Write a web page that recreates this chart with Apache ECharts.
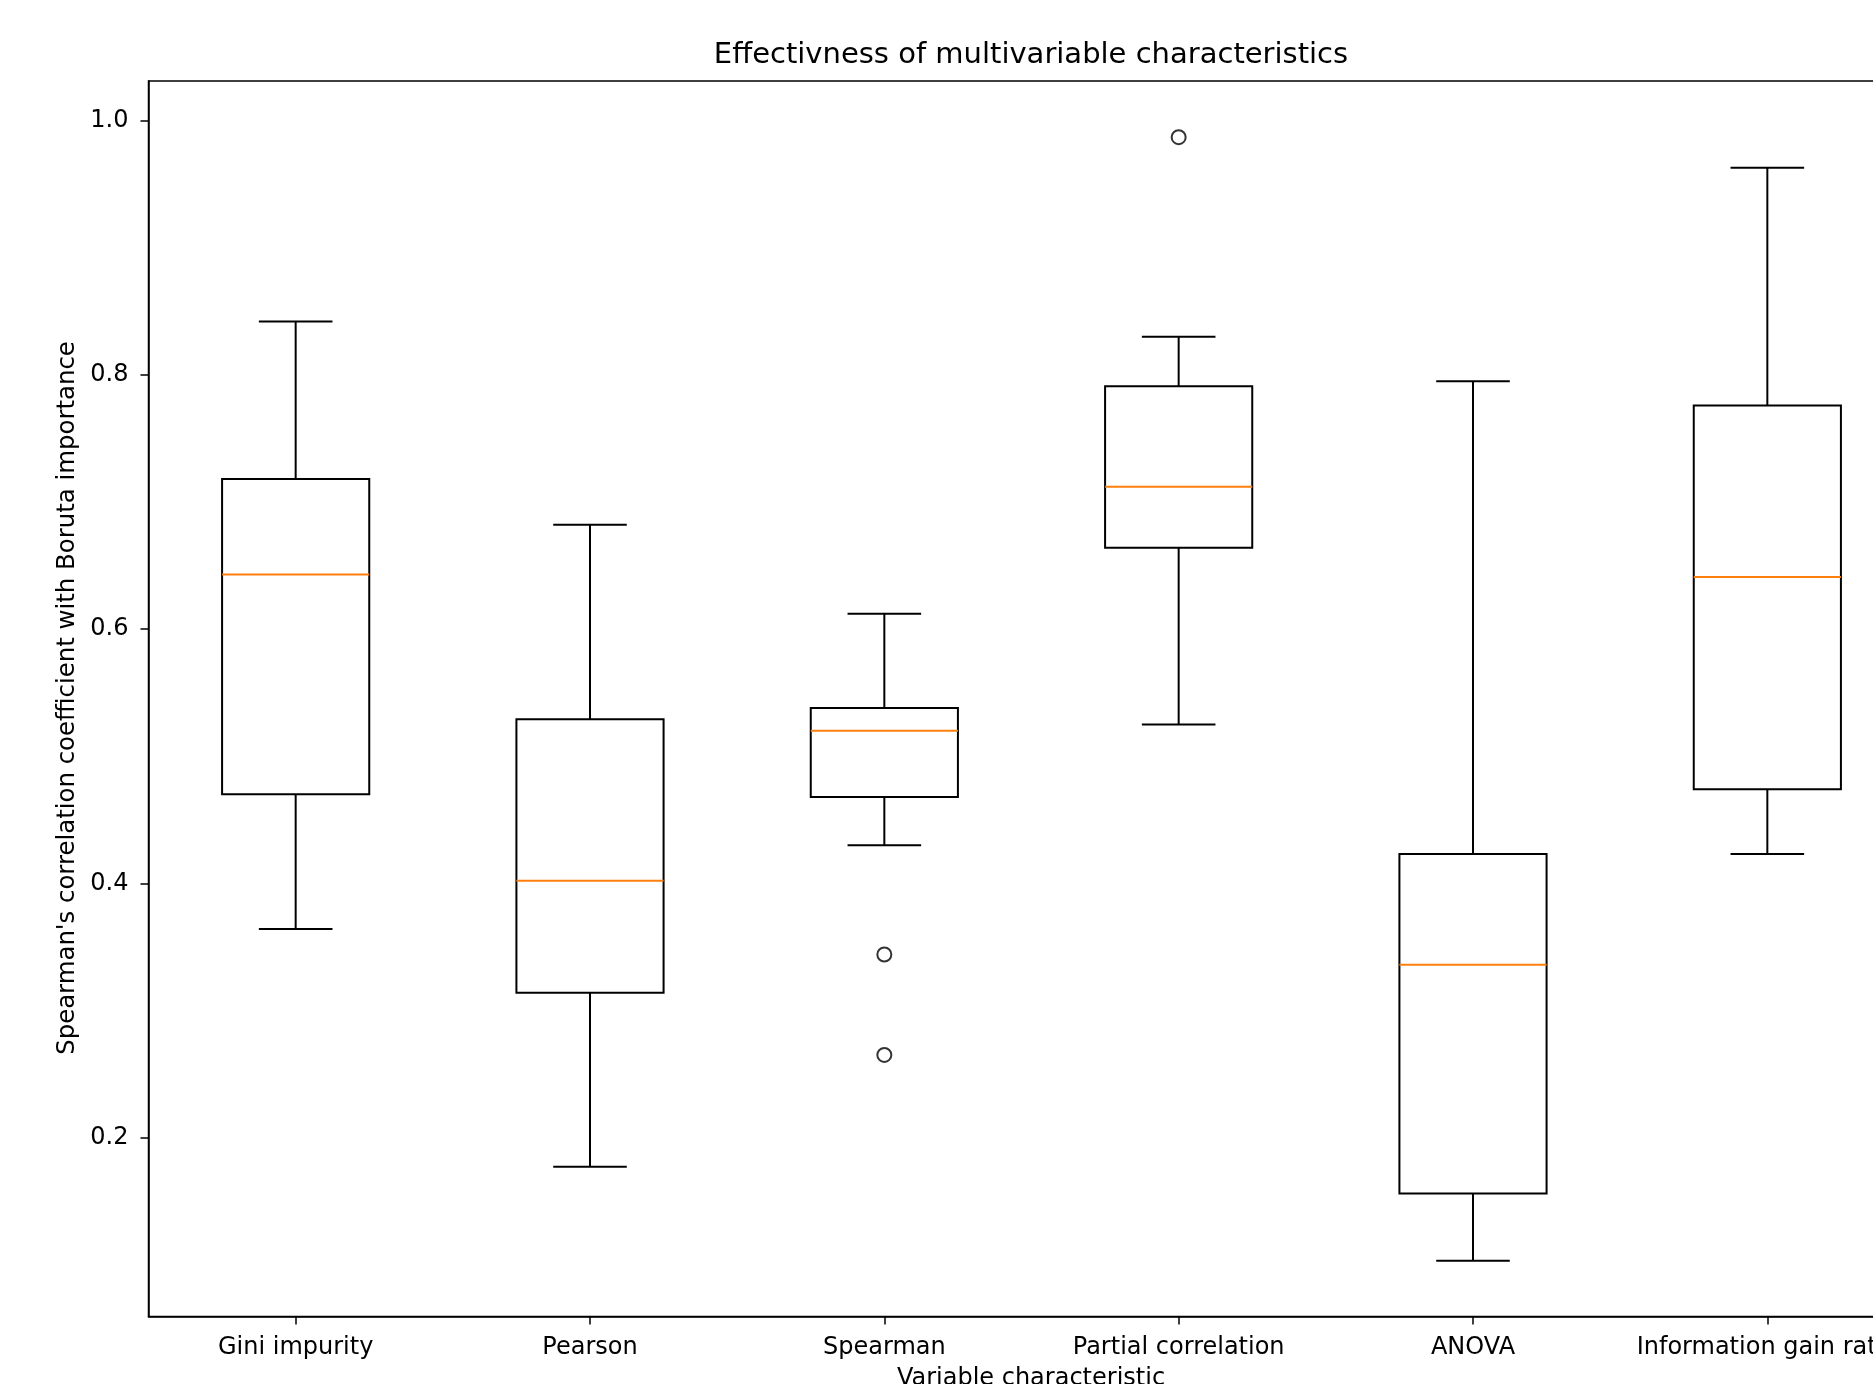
<!DOCTYPE html>
<html>
<head>
<meta charset="utf-8">
<script src="https://cdn.jsdelivr.net/npm/echarts@6/dist/echarts.min.js"></script>
<style>html,body{margin:0;padding:0;background:#fff;}#chart{width:1873px;height:1384px;}</style>
</head>
<body>
<div id="chart"></div>
<script>
const categories = ['Gini impurity', 'Pearson', 'Spearman', 'Partial correlation', 'ANOVA', 'Information gain ratio'];
const whiskerLow  = [0.364, 0.177, 0.430, 0.525, 0.103, 0.423];
const q1          = [0.470, 0.314, 0.468, 0.664, 0.156, 0.474];
const median      = [0.643, 0.402, 0.520, 0.712, 0.336, 0.641];
const q3          = [0.718, 0.529, 0.538, 0.791, 0.423, 0.776];
const whiskerHigh = [0.842, 0.682, 0.612, 0.830, 0.795, 0.963];
const outliers = [[2, 0.344], [2, 0.265], [3, 0.987]];
const yTicks = [0.2, 0.4, 0.6, 0.8, 1.0];

const boxData = categories.map((c, i) => [i, whiskerLow[i], q1[i], median[i], q3[i], whiskerHigh[i]]);

const chart = echarts.init(document.getElementById('chart'));
const FONT = 'DejaVu Sans';
const LW = 2;

function renderBox(params, api) {
  const i = api.value(0);
  const band = api.size([1, 0])[0];
  const hw = band * 0.25, cw = band * 0.125;
  const pLow = api.coord([i, api.value(1)]);
  const pQ1 = api.coord([i, api.value(2)]);
  const pMed = api.coord([i, api.value(3)]);
  const pQ3 = api.coord([i, api.value(4)]);
  const pHigh = api.coord([i, api.value(5)]);
  const x = pQ1[0];
  const st = {stroke: '#000', lineWidth: LW, fill: null};
  return {
    type: 'group',
    children: [
      {type: 'line', shape: {x1: x, y1: pQ1[1], x2: x, y2: pLow[1]}, style: st},
      {type: 'line', shape: {x1: x, y1: pQ3[1], x2: x, y2: pHigh[1]}, style: st},
      {type: 'line', shape: {x1: x - cw, y1: pLow[1], x2: x + cw, y2: pLow[1]}, style: st},
      {type: 'line', shape: {x1: x - cw, y1: pHigh[1], x2: x + cw, y2: pHigh[1]}, style: st},
      {type: 'rect', shape: {x: x - hw, y: pQ3[1], width: 2 * hw, height: pQ1[1] - pQ3[1]}, style: {stroke: '#000', lineWidth: LW, fill: 'none'}},
      {type: 'line', shape: {x1: x - hw, y1: pMed[1], x2: x + hw, y2: pMed[1]}, style: {stroke: '#ff7f0e', lineWidth: LW}}
    ]
  };
}

chart.setOption({
  animation: false,
  backgroundColor: '#fff',
  grid: {left: 148.5, top: 81, width: 1766, height: 1235.5, show: true, borderColor: '#000', borderWidth: 1.5, backgroundColor: 'transparent', outerBoundsMode: 'none', containLabel: false},
  xAxis: {
    type: 'category',
    data: categories,
    boundaryGap: true,
    axisLine: {show: true, lineStyle: {color: '#000', width: 1.5}},
    axisTick: {show: true, alignWithLabel: true, length: 8, lineStyle: {color: '#000', width: 1.5}},
    axisLabel: {color: '#000', fontFamily: FONT, fontSize: 24, margin: 19, interval: 0},
    splitLine: {show: false}
  },
  yAxis: {
    type: 'value',
    min: 0.0592,
    max: 1.0312,
    axisLine: {show: true, lineStyle: {color: '#000', width: 1.5}},
    axisTick: {show: true, length: 8, customValues: yTicks, lineStyle: {color: '#000', width: 1.5}},
    axisLabel: {color: '#000', fontFamily: FONT, fontSize: 24, margin: 20, customValues: yTicks, formatter: v => v.toFixed(1)},
    splitLine: {show: false}
  },
  graphic: [
    {type: 'text', x: 1031, y: 55, style: {text: 'Effectivness of multivariable characteristics', font: '29px "DejaVu Sans"', fill: '#000', textAlign: 'center', textVerticalAlign: 'middle'}},
    {type: 'text', x: 68, y: 698, rotation: Math.PI / 2, style: {text: "Spearman's correlation coefficient with Boruta importance", font: '24.4px "DejaVu Sans"', fill: '#000', textAlign: 'center', textVerticalAlign: 'middle'}},
    {type: 'text', x: 1031, y: 1379, style: {text: 'Variable characteristic', font: '24px "DejaVu Sans"', fill: '#000', textAlign: 'center', textVerticalAlign: 'middle'}}
  ],
  series: [
    {type: 'custom', renderItem: renderBox, data: boxData, encode: {x: 0, y: [1, 2, 3, 4, 5]}, z: 3},
    {type: 'scatter', data: outliers, symbol: 'circle', symbolSize: 14, itemStyle: {color: 'rgba(0,0,0,0)', borderColor: '#000', borderWidth: 2}, z: 4}
  ]
});
</script>
</body>
</html>
